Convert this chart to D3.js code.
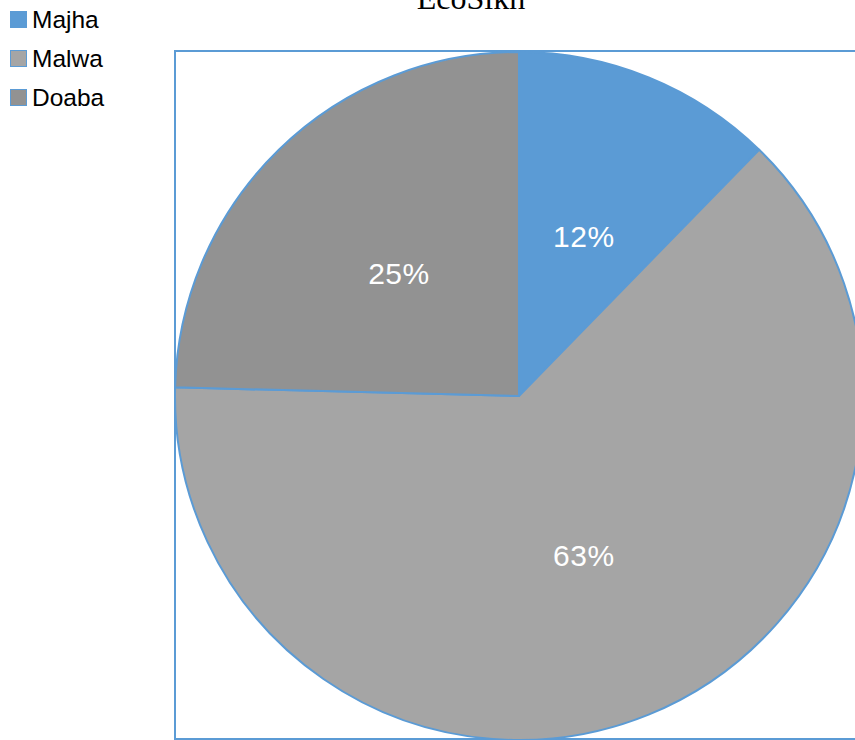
<!DOCTYPE html>
<html>
<head>
<meta charset="utf-8">
<script src="https://cdn.jsdelivr.net/npm/d3@7"></script>
<style>
  html, body { margin: 0; padding: 0; background: #fff; overflow: hidden; }
  svg { display: block; }
</style>
</head>
<body>
<svg id="chart" width="855" height="740"></svg>
<script>
// Regional share of respondents
const regions = ["Majha", "Malwa", "Doaba"];
const shares = [12.3, 63.1, 24.6];
const sliceColors = ["#5B9BD5", "#A5A5A5", "#929292"];
const chartTitle = "EcoSikh";

const W = 855, H = 740;
const svg = d3.select("#chart");
const edge = "#5B9BD5";

// Plot area frame
const plot = { x: 175, y: 51, w: 720, h: 688 };
svg.append("rect")
  .attr("x", plot.x).attr("y", plot.y)
  .attr("width", plot.w).attr("height", plot.h)
  .attr("fill", "none").attr("stroke", edge).attr("stroke-width", 2);

// Title
svg.append("text")
  .attr("x", 471).attr("y", 9)
  .attr("text-anchor", "middle")
  .attr("font-family", "'Liberation Serif', 'Times New Roman', serif")
  .attr("font-size", 32)
  .attr("fill", "#000")
  .text(chartTitle);

// Pie
const cx = 519, cy = 396, r = 344;
const data = regions.map((name, i) => ({ name, value: shares[i], color: sliceColors[i] }));
const pie = d3.pie().value(d => d.value).sort(null);
const arcs = pie(data);
const arc = d3.arc().innerRadius(0).outerRadius(r);
const labelArc = d3.arc().innerRadius(r * 0.5).outerRadius(r * 0.5);
const total = d3.sum(shares);

const g = svg.append("g").attr("transform", `translate(${cx},${cy})`);
g.selectAll("path.slice")
  .data(arcs)
  .join("path")
  .attr("class", "slice")
  .attr("d", arc)
  .attr("fill", d => d.data.color)
  .attr("stroke", edge)
  .attr("stroke-width", 2)
  .attr("stroke-linejoin", "round");

g.selectAll("text.pct")
  .data(arcs)
  .join("text")
  .attr("class", "pct")
  .attr("transform", d => `translate(${labelArc.centroid(d)})`)
  .attr("text-anchor", "middle")
  .attr("dy", "0.36em")
  .attr("font-family", "'Liberation Sans', Arial, Helvetica, sans-serif")
  .attr("font-size", 30)
  .attr("letter-spacing", 0.5)
  .attr("fill", "#fff")
  .text(d => Math.round(d.data.value / total * 100) + "%");

// Legend
const legend = svg.append("g");
const rowY = d3.scalePoint().domain(regions).range([19, 97]);
const items = legend.selectAll("g.item")
  .data(data)
  .join("g")
  .attr("class", "item")
  .attr("transform", d => `translate(10,${rowY(d.name)})`);
items.append("rect")
  .attr("x", 0.5).attr("y", -7.5)
  .attr("width", 16).attr("height", 16)
  .attr("fill", d => d.color)
  .attr("stroke", edge).attr("stroke-width", 1);
items.append("text")
  .attr("x", 22).attr("y", 8.5)
  .attr("font-family", "'Liberation Sans', Arial, Helvetica, sans-serif")
  .attr("font-size", 24.5)
  .attr("fill", "#000")
  .text(d => d.name);
</script>
</body>
</html>
